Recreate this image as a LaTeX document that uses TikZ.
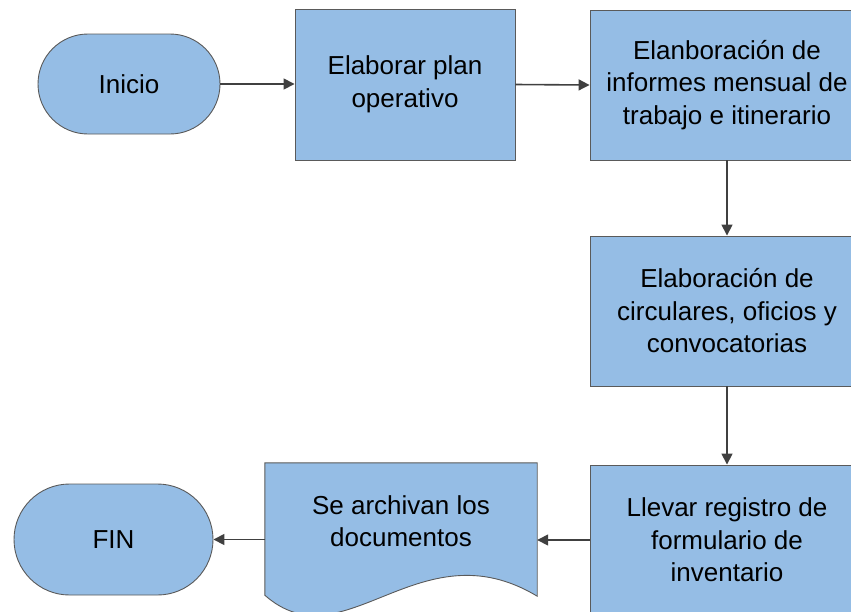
\documentclass[tikz,border=0pt]{standalone}
\usepackage{fontspec}
\setmainfont{Liberation Sans}
\usetikzlibrary{arrows.meta}
\definecolor{boxfill}{HTML}{95BDE5}
\definecolor{boxline}{HTML}{5A5A5A}
\definecolor{arrowcol}{HTML}{404040}
\begin{document}
\begin{tikzpicture}[x=1pt,y=-1pt,
  every node/.style={font=\fontsize{26}{32.5}\selectfont, align=center, inner sep=0pt},
  procbox/.style={draw=boxline, fill=boxfill, line width=0.9pt, rectangle},
  termbox/.style={draw=boxline, fill=boxfill, line width=0.9pt, rectangle},
  conn/.style={draw=arrowcol, line width=1.6pt, -{Triangle[length=11pt,width=11pt]}}
]
\useasboundingbox (0,0) rectangle (851,611);
\clip (0,0) rectangle (851,611);
\node[termbox, minimum width=182pt, minimum height=100pt, rounded corners=50pt] (inicio) at (129,84) {Inicio};
\node[procbox, minimum width=220pt, minimum height=151pt] (plan) at (405,84.5) {Elaborar plan\\operativo};
\node[procbox, minimum width=274pt, minimum height=150pt] (informes) at (727,85) {Elanboración de\\informes mensual de\\trabajo e itinerario};
\node[procbox, minimum width=274pt, minimum height=150pt] (circ) at (727,311) {Elaboración de\\circulares, oficios y\\convocatorias};
\node[procbox, minimum width=274pt, minimum height=150pt] (llevar) at (727,540) {Llevar registro de\\formulario de\\inventario};
\node[minimum width=272pt, minimum height=132pt] (doc) at (401,529) {};
\draw[draw=boxline, fill=boxfill, line width=0.9pt]
  (doc.north west) -- (doc.north east) -- ([yshift=-1pt]doc.south east)
  .. controls (419,525) and (344,665) .. (doc.south west) -- cycle;
\node (doctext) at (401,521) {Se archivan los\\documentos};
\node[termbox, minimum width=199pt, minimum height=111pt, rounded corners=55.5pt] (fin) at (113.5,539.5) {FIN};
\coordinate (docE) at (doc.east |- llevar.west);
\coordinate (docW) at (doc.west |- fin.east);
\draw[conn] (inicio.east) -- (plan.west |- inicio.east);
\draw[conn] (plan.east) -- (informes.west);
\draw[conn] (informes.south) -- (circ.north);
\draw[conn] (circ.south) -- (llevar.north);
\draw[conn] (llevar.west) -- (docE);
\draw[conn] (docW) -- (fin.east);
\end{tikzpicture}
\end{document}
